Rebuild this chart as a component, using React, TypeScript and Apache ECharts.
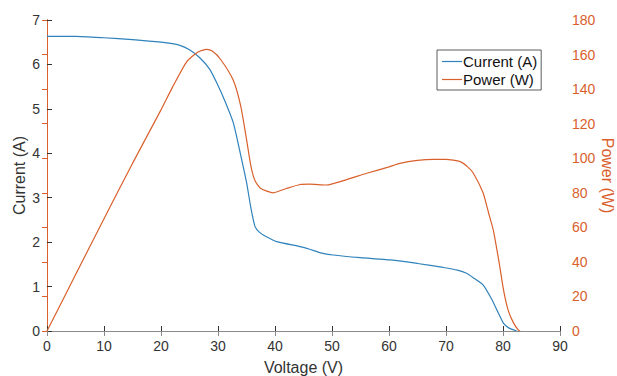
import React, { useEffect, useRef } from "react";
import * as echarts from "echarts";

const xTicks = [0, 10, 20, 30, 40, 50, 60, 70, 80, 90];

const currentV = [0, 5, 10, 15, 20, 23.3, 25, 26.8, 28.5, 29.8, 31.3, 32.7, 34, 35, 35.8, 36.5, 37.3, 38.5, 40.3, 44.4, 46.1, 48, 50.2, 55, 60.2, 65, 69.5, 72, 73.6, 75, 76.5, 78, 79.2, 80.1, 81, 82.4];
const currentA = [6.63, 6.63, 6.6, 6.56, 6.5, 6.43, 6.33, 6.15, 5.9, 5.58, 5.15, 4.68, 3.95, 3.35, 2.75, 2.35, 2.22, 2.12, 2.01, 1.9, 1.84, 1.76, 1.71, 1.65, 1.6, 1.52, 1.43, 1.37, 1.3, 1.18, 1.04, 0.72, 0.4, 0.17, 0.07, 0];

const powerV = [0, 5, 10, 15, 20, 22, 24.5, 26.5, 28, 29, 30.5, 32.7, 34, 35, 35.8, 36.5, 37.5, 39.7, 42, 44.4, 46, 49, 52, 56.1, 60, 61.9, 65, 67.8, 70, 72.5, 73.8, 74.8, 76.5, 77.5, 78.3, 79.3, 80.1, 80.9, 81.8, 82.7, 83];
const powerW = [0, 32.5, 65, 97, 128, 141, 155.8, 161.5, 163, 162, 157, 145, 130, 111, 95, 87, 82.5, 80, 82.5, 84.8, 85, 84.5, 87, 91.3, 95, 97, 98.7, 99.3, 99.3, 98, 95, 91.3, 80, 68, 58.4, 40, 23.7, 12.1, 5, 0.5, 0];

const BLUE = "#2f82bb";
const ORANGE = "#d9602c";
const DARK = "#333333";
const FONT = "Liberation Sans, Arial, sans-serif";

export default function App() {
  const ref = useRef<HTMLDivElement>(null);
  useEffect(() => {
    if (!ref.current) return;
    const chart = echarts.init(ref.current, undefined, { renderer: "svg" });
    const currentData = currentV.map((v, i) => [v, currentA[i]]);
    const powerData = powerV.map((v, i) => [v, powerW[i]]);
    chart.setOption({
      animation: false,
      backgroundColor: "#fff",
      textStyle: { fontFamily: FONT },
      grid: { left: 47, right: 57, top: 20, bottom: 45, containLabel: false, outerBoundsMode: "none" },
      legend: {
        orient: "vertical",
        left: 437,
        top: 50,
        width: 104,
        backgroundColor: "#fff",
        borderColor: DARK,
        borderWidth: 0.8,
        borderRadius: 0,
        padding: [4, 4, 3, 5],
        itemGap: 3,
        itemWidth: 20,
        itemHeight: 1.2,
        icon: "rect",
        textStyle: { fontSize: 15, color: "#111", fontFamily: FONT, padding: [0, 0, 0, -4] },
        data: ["Current (A)", "Power (W)"],
      },
      xAxis: [
        {
          type: "value",
          min: 0,
          max: 90,
          interval: 10,
          name: "Voltage (V)",
          nameLocation: "middle",
          nameGap: 28,
          nameMoveOverlap: false,
          nameTextStyle: { fontSize: 16, color: DARK, fontFamily: FONT },
          axisLine: { show: true, lineStyle: { color: DARK, width: 1 } },
          axisTick: { show: true, inside: true, length: 5, lineStyle: { color: DARK } },
          axisLabel: { fontSize: 14, color: DARK, margin: 8, fontFamily: FONT, formatter: (v: number) => (xTicks.includes(v) ? String(v) : "") },
          splitLine: { show: false },
        },
        {
          type: "value",
          position: "top",
          min: 0,
          max: 90,
          interval: 10,
          axisLine: { show: true, lineStyle: { color: "#8a8a8a", width: 1 } },
          axisTick: { show: true, inside: true, length: 5, lineStyle: { color: "#8a8a8a" } },
          axisLabel: { show: false },
          splitLine: { show: false },
        },
      ],
      yAxis: [
        {
          type: "value",
          min: 0,
          max: 7,
          interval: 1,
          position: "left",
          name: "Current (A)",
          nameLocation: "middle",
          nameGap: 20,
          nameMoveOverlap: false,
          nameTextStyle: { fontSize: 16, color: DARK, fontFamily: FONT },
          axisLine: { show: true, lineStyle: { color: DARK, width: 1 } },
          axisTick: { show: true, inside: true, length: 5, lineStyle: { color: DARK } },
          axisLabel: { fontSize: 14, color: DARK, margin: 7, fontFamily: FONT },
          splitLine: { show: false },
        },
        {
          type: "value",
          min: 0,
          max: 180,
          interval: 20,
          position: "right",
          name: "Power (W)",
          nameLocation: "middle",
          nameGap: 39,
          nameMoveOverlap: false,
          nameRotate: -90,
          nameTextStyle: { fontSize: 16, color: ORANGE, fontFamily: FONT },
          axisLine: { show: true, lineStyle: { color: ORANGE, width: 1 } },
          axisTick: { show: true, inside: true, length: 5, lineStyle: { color: ORANGE } },
          axisLabel: { fontSize: 14, color: ORANGE, margin: 12, fontFamily: FONT },
          splitLine: { show: false },
        },
      ],
      series: [
        {
          name: "Current (A)",
          type: "line",
          xAxisIndex: 0,
          yAxisIndex: 0,
          data: currentData,
          showSymbol: false,
          smooth: 0.2,
          lineStyle: { color: BLUE, width: 1.2 },
          itemStyle: { color: BLUE },
        },
        {
          name: "Power (W)",
          type: "line",
          xAxisIndex: 0,
          yAxisIndex: 1,
          data: powerData,
          showSymbol: false,
          smooth: 0.2,
          lineStyle: { color: ORANGE, width: 1.2 },
          itemStyle: { color: ORANGE },
        },
      ],
    });
    return () => chart.dispose();
  }, []);
  return <div ref={ref} style={{ width: 617, height: 376, position: "absolute", left: 0, top: 0 }} />;
}
